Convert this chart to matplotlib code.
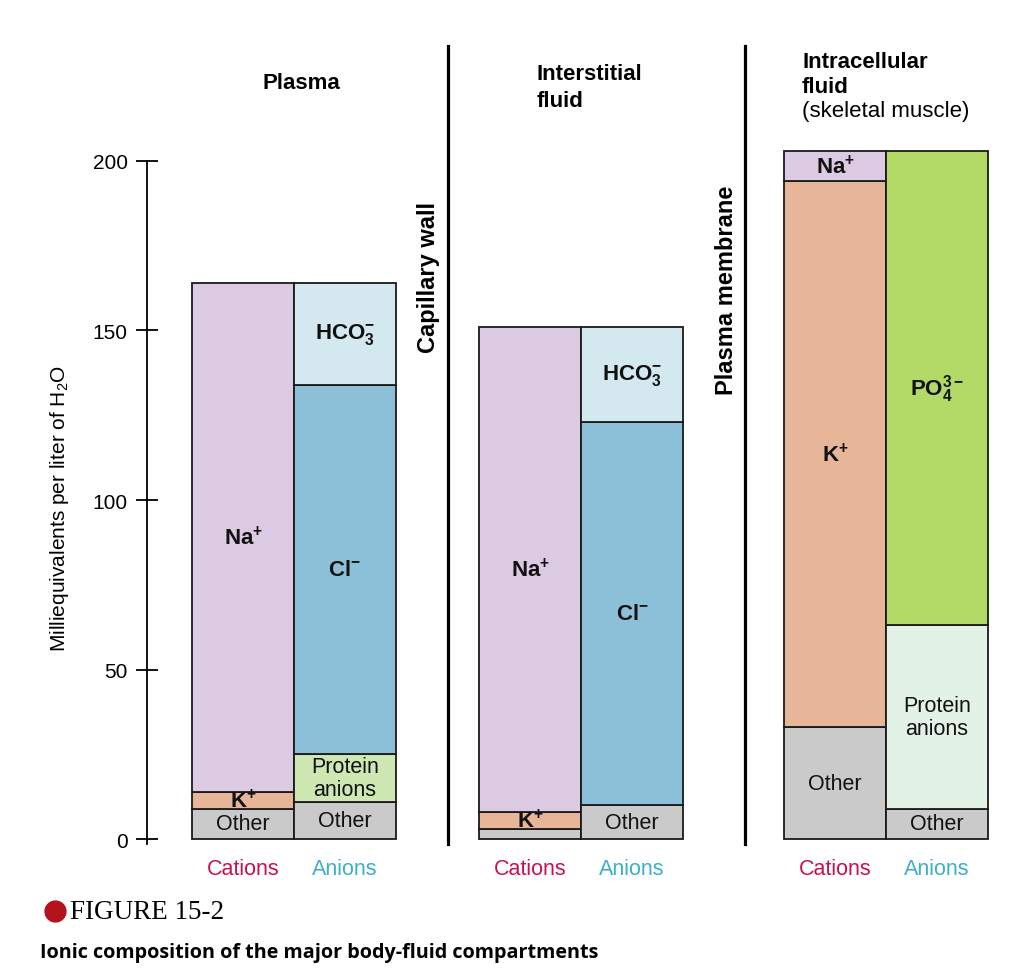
import numpy as np
import matplotlib
matplotlib.use("Agg")
import matplotlib.pyplot as plt
from matplotlib.lines import Line2D

plt.rcParams["font.family"] = ["Liberation Sans", "DejaVu Sans"]
plt.rcParams["mathtext.fontset"] = "custom"
plt.rcParams["mathtext.rm"] = "Liberation Sans"
plt.rcParams["mathtext.bf"] = "Liberation Sans:bold"
plt.rcParams["mathtext.it"] = "Liberation Sans:italic"

# data (mEq per liter of H2O), stacked bottom -> top
compartments = ["Plasma", "Interstitial\nfluid", "Intracellular\nfluid"]

cation_ions = [["Other", "K", "Na"],
               ["Other", "K", "Na"],
               ["Other", "K", "Na"]]
plasma_cations = [9, 5, 150]
interstitial_cations = [3, 5, 143]
intracellular_cations = [33, 161, 9]

anion_ions = [["Other", "Protein", "Cl", "HCO3"],
              ["Other", "Cl", "HCO3"],
              ["Other", "Protein_icf", "PO4"]]
plasma_anions = [11, 14, 109, 30]
interstitial_anions = [10, 113, 28]
intracellular_anions = [9, 54, 140]

yticks = [0, 50, 100, 150, 200]

cations = [plasma_cations, interstitial_cations, intracellular_cations]
anions = [plasma_anions, interstitial_anions, intracellular_anions]

labels = {
    "Other": "Other",
    "K": r"$\mathbf{K^{+}}$",
    "Na": r"$\mathbf{Na^{+}}$",
    "Cl": r"$\mathbf{Cl^{-}}$",
    "HCO3": r"$\mathbf{HCO_3^{-}}$",
    "Protein": "Protein\nanions",
    "Protein_icf": "Protein\nanions",
    "PO4": r"$\mathbf{PO_4^{3-}}$",
}
colors = {
    "Other": "#cacaca",
    "K": "#e7b698",
    "Na": "#dbcae1",
    "Cl": "#8cc0d8",
    "HCO3": "#d4e8ef",
    "Protein": "#cfe8b3",
    "Protein_icf": "#e3f2e6",
    "PO4": "#b3d966",
}

W, H = 1024, 978
fig = plt.figure(figsize=(W / 100, H / 100), dpi=100)
# y: 0 -> 840px, 200 -> 162px ; x: group 0 -> 294px, 296px per group
ax = fig.add_axes([147 / W, (H - 850.2) / H, 877 / W, 728.9 / H])
ax.set_ylim(-3, 212)
ax.set_xlim(-0.4966, 2.4662)

group_x = np.array([0.0, 0.97, 2.0])
bw = 0.345
off = 0.172


def stack(x, ions, vals):
    bottom = 0
    for ion, v in zip(ions, vals):
        ax.bar(x, v, bw, bottom=bottom, color=colors[ion],
               edgecolor="#1a1a1a", linewidth=1.3)
        if v > 4:
            bold = ion not in ("Other", "Protein", "Protein_icf")
            ax.text(x, bottom + v / 2, labels[ion], ha="center", va="center",
                    fontsize=16 if bold else 15.5, linespacing=1.1,
                    color="#111111")
        bottom += v


for i in range(3):
    stack(group_x[i] - off, cation_ions[i], cations[i])
    stack(group_x[i] + off, anion_ions[i], anions[i])
    ax.text(group_x[i] - off, -8.8, "Cations", ha="center", va="center",
            fontsize=15.5, color="#c8124e", clip_on=False)
    ax.text(group_x[i] + off, -8.8, "Anions", ha="center", va="center",
            fontsize=15.5, color="#3cb0c8", clip_on=False)

# membranes
for xm, name, ym in [(0.520, "Capillary wall", 166), (1.524, "Plasma membrane", 162)]:
    ax.plot([xm, xm], [-1.5, 234], color="black", lw=2.3, clip_on=False)
    ax.text(xm - 0.064, ym, name, rotation=90, ha="center", va="center",
            fontsize=17, fontweight="bold")

for s in ["top", "right", "bottom"]:
    ax.spines[s].set_visible(False)
ax.spines["left"].set_bounds(-1.5, 200)
ax.spines["left"].set_linewidth(1.3)
ax.set_xticks([])
ax.set_yticks(yticks)
ax.tick_params(axis="y", direction="inout", length=16, width=1.3,
               labelsize=15, pad=6)
ax.patch.set_alpha(0)

fig.text(60 / W, 1 - 508 / H, r"Milliequivalents per liter of H$_2$O",
         rotation=90, ha="center", va="center", fontsize=15)

# compartment titles
fig.text(262 / W, 1 - 73 / H, compartments[0], fontsize=16, fontweight="bold",
         va="top", linespacing=1.25)
fig.text(537 / W, 1 - 64 / H, compartments[1], fontsize=16, fontweight="bold",
         va="top", linespacing=1.4)
fig.text(802 / W, 1 - 52 / H, compartments[2], fontsize=16, fontweight="bold",
         va="top", linespacing=1.25)
fig.text(802 / W, 1 - 112 / H, "(skeletal muscle)", fontsize=16, va="center")

# caption
fig.add_artist(Line2D([55 / W], [1 - 912 / H], marker="o", markersize=15,
                      color="#b3121c", transform=fig.transFigure))
fig.text(70 / W, 1 - 913 / H, "FIGURE 15-2", fontsize=19.5,
         family="Liberation Serif", va="center")
fig.text(40 / W, 1 - 953 / H,
         "Ionic composition of the major body-fluid compartments",
         fontsize=14.2, family="Open Sans", fontweight="bold", va="center")

fig.savefig("out.png", dpi=100, facecolor="white")
